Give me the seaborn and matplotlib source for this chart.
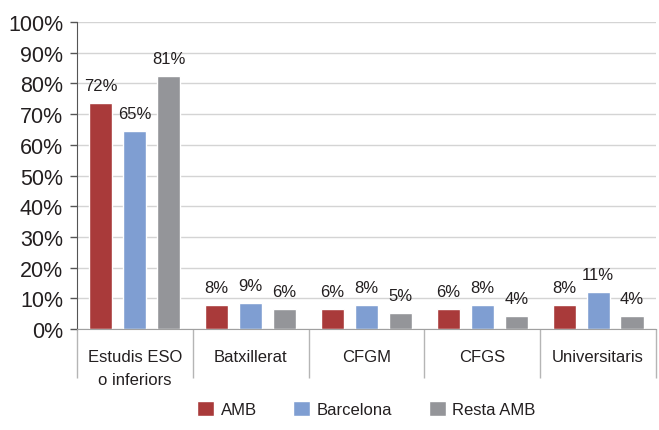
import pandas as pd
import matplotlib.pyplot as plt
import seaborn as sns

# --- data ---
categories = ["Estudis ESO\no inferiors", "Batxillerat", "CFGM", "CFGS", "Universitaris"]
series = ["AMB", "Barcelona", "Resta AMB"]
amb = [73.7, 7.9, 6.5, 6.5, 7.9]
barcelona = [64.6, 8.6, 7.9, 7.9, 12.1]
resta_amb = [82.5, 6.5, 5.3, 4.2, 4.2]
amb_labels = ["72%", "8%", "6%", "6%", "8%"]
barcelona_labels = ["65%", "9%", "8%", "8%", "11%"]
resta_labels = ["81%", "6%", "5%", "4%", "4%"]
colors = ["#a93a3a", "#7f9ed2", "#949599"]

# --- long format for seaborn ---
df = pd.DataFrame({
    "Categoria": categories * 3,
    "Serie": [s for s in series for _ in categories],
    "Valor": amb + barcelona + resta_amb,
})

sns.set_style("white")
plt.rcParams["font.family"] = ["Liberation Sans", "DejaVu Sans"]
text_col = "#231f20"

fig = plt.figure(figsize=(6.59, 4.31), dpi=100)
ax = fig.add_axes([0.1168, 0.2343, 0.8786, 0.7123])

sns.barplot(data=df, x="Categoria", y="Valor", hue="Serie", palette=colors,
            order=categories, hue_order=series, width=0.88, gap=0.32,
            saturation=1, ax=ax, legend=True)

# value labels above bars
for cont, labs in zip(ax.containers, [amb_labels, barcelona_labels, resta_labels]):
    ax.bar_label(cont, labels=labs, padding=7, fontsize=12, color=text_col)

# y axis
ax.set_ylim(0, 100)
ax.set_yticks(range(0, 101, 10))
ax.set_yticklabels([f"{v}%" for v in range(0, 101, 10)])
ax.yaxis.grid(True, color="#d4d4d4", linewidth=1)
ax.set_axisbelow(True)
ax.tick_params(axis="y", left=True, length=5, width=1, color="#555555",
               labelsize=15.5, labelcolor=text_col, pad=5)

# x axis: labels centred, long separator ticks between categories
ax.set_xlim(-0.5, len(categories) - 0.5)
ax.set_xticks(range(len(categories)))
ax.set_xticklabels(categories, linespacing=1.65)
ax.set_xticks([i - 0.5 for i in range(len(categories) + 1)], minor=True)
ax.tick_params(axis="x", which="major", length=0, labelsize=12,
               labelcolor=text_col, pad=14.5)
ax.tick_params(axis="x", which="minor", bottom=True, length=35, width=1,
               color="#b5b5b5")
ax.set_xlabel("")
ax.set_ylabel("")

for side in ["top", "right"]:
    ax.spines[side].set_visible(False)
ax.spines["left"].set_color("#555555")
ax.spines["bottom"].set_color("#a0a0a0")

ax.legend(loc="center", bbox_to_anchor=(0.5, -0.26), ncol=3, frameon=False,
          fontsize=12, handlelength=1.0, handleheight=1.0,
          handletextpad=0.4, columnspacing=2.2, labelcolor=text_col)

plt.savefig("out.png", dpi=100)
